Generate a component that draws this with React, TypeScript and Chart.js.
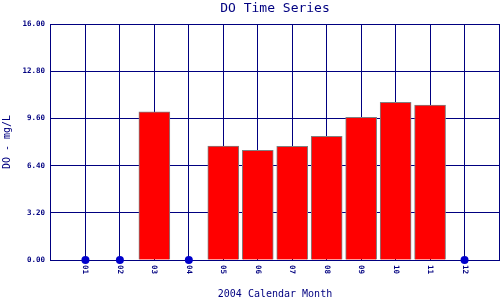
import React, { useEffect, useRef } from 'react';
import { Chart, registerables } from 'chart.js';

Chart.register(...registerables);

// ---- data ----
const months = ['01', '02', '03', '04', '05', '06', '07', '08', '09', '10', '11', '12'];
const doValues: (number | null)[] = [null, null, 10.05, null, 7.73, 7.44, 7.71, 8.39, 9.67, 10.69, 10.51, null];
const yTickValues = [0, 3.2, 6.4, 9.6, 12.8, 16];
const chartTitle = 'DO Time Series';
const xTitle = '2004 Calendar Month';
const yTitle = 'DO - mg/L';

// ---- style ----
const NAVY = '#000080';
const DOT = '#0000cc';
const MONO = "'DejaVu Sans Mono', monospace";

const labels = ['', ...months, ''];
const barData = [null, ...doValues, null];
const markerData = [null, ...doValues.map((v) => (v == null ? 0 : null)), null];

const monthLabelPlugin = {
  id: 'monthLabels',
  afterDraw(chart: any) {
    const xs = chart.scales.x;
    const ctx = chart.ctx as CanvasRenderingContext2D;
    ctx.save();
    ctx.fillStyle = NAVY;
    ctx.font = `bold 7.5px ${MONO}`;
    ctx.textAlign = 'left';
    ctx.textBaseline = 'middle';
    months.forEach((m, i) => {
      const x = xs.getPixelForValue(i + 1);
      ctx.save();
      ctx.translate(x, xs.top + 5);
      ctx.rotate(Math.PI / 2);
      ctx.fillText(m, 0, 0);
      ctx.restore();
    });
    ctx.restore();
  },
};

export default function App() {
  const ref = useRef<HTMLCanvasElement | null>(null);

  useEffect(() => {
    if (!ref.current) return;
    const chart = new Chart(ref.current, {
      type: 'bar',
      data: {
        labels,
        datasets: [
          {
            type: 'line',
            label: 'No data',
            data: markerData,
            showLine: false,
            pointRadius: 4,
            pointHoverRadius: 4,
            pointBackgroundColor: DOT,
            pointBorderColor: DOT,
            pointBorderWidth: 0,
            order: 0,
            clip: false,
          } as any,
          {
            type: 'bar',
            label: 'DO',
            data: barData,
            backgroundColor: '#ff0000',
            borderColor: '#808080',
            borderWidth: 1,
            barThickness: 31,
            order: 1,
          } as any,
        ],
      },
      options: {
        animation: false,
        responsive: false,
        devicePixelRatio: 1,
        layout: { autoPadding: false, padding: { left: 0, right: 1, top: 0, bottom: 0 } },
        plugins: {
          legend: { display: false },
          tooltip: { enabled: false },
          title: {
            display: true,
            text: chartTitle,
            color: NAVY,
            fullSize: false,
            font: { family: MONO, size: 13, weight: 'normal' },
            padding: { top: 1, bottom: 7.4 },
          },
        },
        scales: {
          x: {
            type: 'category',
            offset: false,
            grid: { color: NAVY, lineWidth: 1, drawTicks: false, offset: false },
            border: { color: NAVY, width: 1 },
            ticks: { display: false },
            title: {
              display: true,
              text: xTitle,
              color: NAVY,
              font: { family: MONO, size: 10, weight: 'normal' },
              padding: { top: 28, bottom: 0 },
            },
          },
          y: {
            min: 0,
            max: 16,
            afterBuildTicks: (s: any) => {
              s.ticks = yTickValues.map((v) => ({ value: v }));
            },
            grid: { color: NAVY, lineWidth: 1, drawTicks: false },
            border: { color: NAVY, width: 1 },
            ticks: {
              color: NAVY,
              padding: 6,
              font: { family: MONO, size: 7.5, weight: 'bold' },
              callback: (v: any) => Number(v).toFixed(2),
            },
            title: {
              display: true,
              text: yTitle,
              color: NAVY,
              font: { family: MONO, size: 10, weight: 'normal' },
              padding: { top: 1, bottom: 3.4 },
            },
          },
        },
      } as any,
      plugins: [monthLabelPlugin],
    });
    return () => chart.destroy();
  }, []);

  return (
    <div style={{ position: 'absolute', left: 0, top: 0, width: 500, height: 300 }}>
      <canvas ref={ref} width={500} height={300} style={{ display: 'block' }} />
    </div>
  );
}
